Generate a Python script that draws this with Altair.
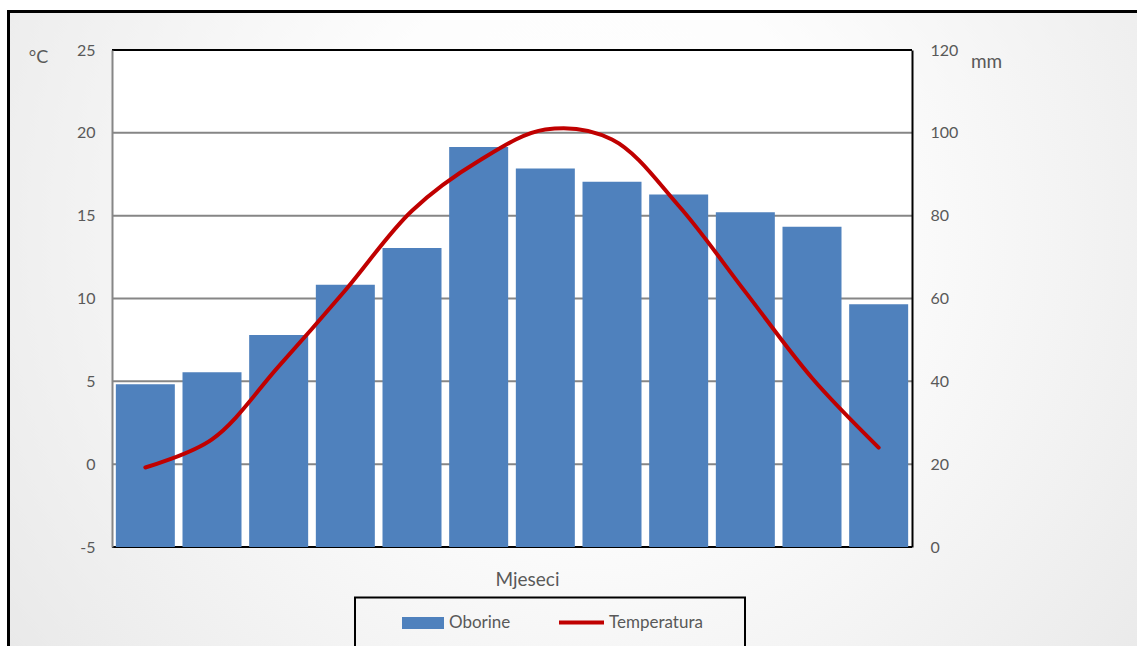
import altair as alt
import pandas as pd

months = ["I", "II", "III", "IV", "V", "VI", "VII", "VIII", "IX", "X", "XI", "XII"]
oborine = [39.3, 42.2, 51.2, 63.3, 72.2, 96.6, 91.4, 88.2, 85.1, 80.8, 77.3, 58.6]
temperatura = [-0.2, 1.5, 5.9, 10.5, 15.3, 18.3, 20.2, 19.6, 15.6, 10.4, 5.2, 1.0]
temp_ticks = [-5, 0, 5, 10, 15, 20, 25]
mm_ticks = [0, 20, 40, 60, 80, 100, 120]
grid_vals = [0, 5, 10, 15, 20]

W, H = 800, 497
FONT = "Lato"
GREY_TXT = "#595959"
GRID = "#868686"

df = pd.DataFrame({"Mjesec": months, "Oborine": oborine, "Temperatura": temperatura,
                   "s_bar": ["Oborine"] * 12, "s_line": ["Temperatura"] * 12})
grid_df = pd.DataFrame({"v": grid_vals})
base_df = pd.DataFrame({"v": [-5]})
one = alt.Data(values=[{"a": 1}])

temp_scale = alt.Scale(domain=[-5, 25], nice=False, zero=False)
mm_scale = alt.Scale(domain=[0, 120], nice=False)
x_enc = alt.X("Mjesec:N", sort=months,
              scale=alt.Scale(paddingInner=0.115, paddingOuter=0.0575),
              axis=alt.Axis(labels=False, ticks=False, domain=False, title="Mjeseci",
                            titleFont=FONT, titleFontSize=19, titleFontWeight="normal",
                            titleColor=GREY_TXT, titlePadding=23, titleX=415,
                            titleAlign="center", zindex=1))

bg = alt.Chart(one).mark_rect(
    fill=alt.RadialGradient(gradient="radial",
                            stops=[alt.GradientStop(color="#ffffff", offset=0),
                                   alt.GradientStop(color="#fdfdfd", offset=0.3),
                                   alt.GradientStop(color="#e2e2e2", offset=1)],
                            x1=0.5, y1=0.4, r1=0, x2=0.5, y2=0.4, r2=0.75),
    stroke="black", strokeWidth=3
).encode(x=alt.value(-103.5), x2=alt.value(1060), y=alt.value(-38.5), y2=alt.value(640))

plot_bg = alt.Chart(one).mark_rect(fill="white").encode(
    x=alt.value(0), x2=alt.value(W), y=alt.value(0), y2=alt.value(H))

grid = alt.Chart(grid_df).mark_rule(color=GRID, strokeWidth=2).encode(
    y=alt.Y("v:Q", scale=temp_scale, axis=None))

baseline = alt.Chart(base_df).mark_rule(color="black", strokeWidth=2).encode(
    y=alt.Y("v:Q", scale=temp_scale, axis=None))

bars = alt.Chart(df).mark_bar(color="#4F81BD").encode(
    x=x_enc,
    y=alt.Y("Oborine:Q", scale=mm_scale,
            axis=alt.Axis(orient="right", values=mm_ticks, grid=False, ticks=False,
                          domainColor="black", domainWidth=2, zindex=1,
                          labelFont=FONT, labelFontSize=16, labelColor=GREY_TXT,
                          labelPadding=18, title="mm", titleAngle=0, titleX=74, titleY=11,
                          titleAlign="center", titleBaseline="middle", titleFont=FONT,
                          titleFontSize=19, titleFontWeight="normal", titleColor=GREY_TXT)),
    fill=alt.Fill("s_bar:N", scale=alt.Scale(domain=["Oborine"], range=["#4F81BD"]),
                  legend=alt.Legend(title=None, orient="none", legendX=290, legendY=552,
                                    padding=0, symbolType="M-1,-0.286H1V0.286H-1Z",
                                    symbolSize=1764, symbolStrokeWidth=0, symbolOpacity=1,
                                    labelFont=FONT, labelFontSize=17, labelColor=GREY_TXT,
                                    labelOffset=5)),
)

line = alt.Chart(df).mark_line(strokeWidth=4, interpolate="catmull-rom", strokeCap="round").encode(
    x=x_enc,
    y=alt.Y("Temperatura:Q", scale=temp_scale,
            axis=alt.Axis(orient="left", values=temp_ticks, grid=False, ticks=False,
                          domainColor=GRID, domainWidth=2, zindex=1,
                          labelExpr="datum.value + ''",
                          labelFont=FONT, labelFontSize=16, labelColor=GREY_TXT,
                          labelPadding=17, title="°C", titleAngle=0, titleX=-74, titleY=7,
                          titleAlign="center", titleBaseline="middle", titleFont=FONT,
                          titleFontSize=18, titleFontWeight="normal", titleColor=GREY_TXT)),
    stroke=alt.Stroke("s_line:N", scale=alt.Scale(domain=["Temperatura"], range=["#C00000"]),
                      legend=alt.Legend(title=None, orient="none", legendX=445, legendY=548,
                                        padding=0, symbolType="stroke", symbolSize=2025,
                                        symbolStrokeWidth=4, labelFont=FONT, labelFontSize=17,
                                        labelColor=GREY_TXT, labelOffset=3)),
)

top_rule = alt.Chart(one).mark_rule(color="black", strokeWidth=2).encode(
    x=alt.value(0), x2=alt.value(W), y=alt.value(0))

legend_box = alt.Chart(one).mark_rect(fillOpacity=0, stroke="black", strokeWidth=2).encode(
    x=alt.value(243), x2=alt.value(633), y=alt.value(547.5), y2=alt.value(640))

chart = alt.layer(bg, plot_bg, grid, baseline, bars, line, top_rule, legend_box).resolve_scale(
    y="independent"
).properties(
    width=W, height=H,
    autosize=alt.AutoSizeParams(type="none"),
    padding={"left": 112, "top": 50, "right": 225, "bottom": 99},
).configure_view(strokeWidth=0).configure(background="#ffffff")

chart.save("out.html", embed_options={"renderer": "svg", "actions": False})
